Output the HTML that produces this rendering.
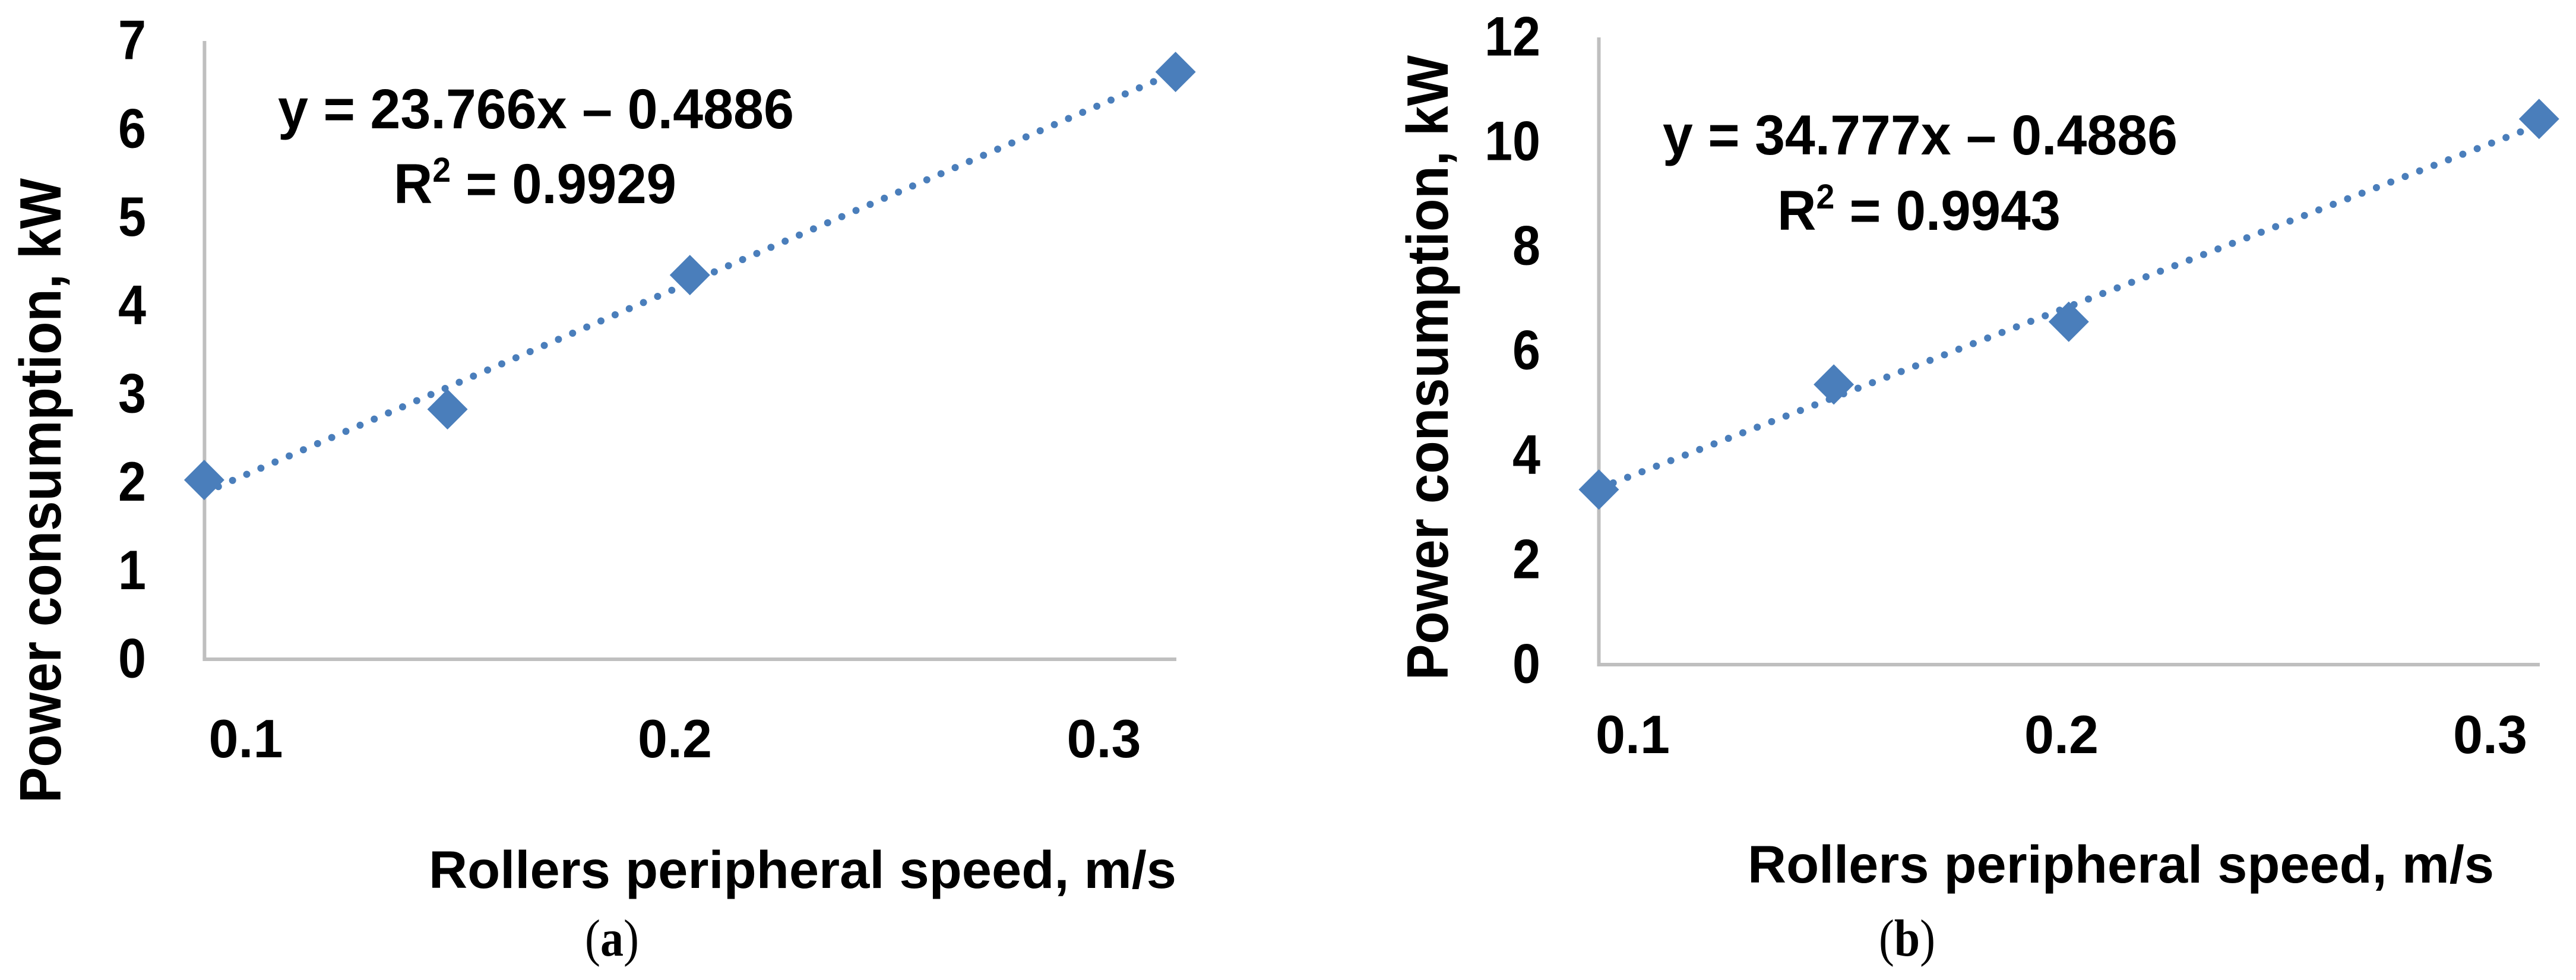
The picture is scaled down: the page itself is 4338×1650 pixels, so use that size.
<!DOCTYPE html>
<html lang="en">
<head>
<meta charset="utf-8">
<title>Power consumption vs rollers peripheral speed</title>
<style>
  html, body { margin: 0; padding: 0; background: #fff; }
  svg { display: block; }
  text { font-family: "Liberation Sans", sans-serif; font-weight: bold; fill: #000; }
  .caption { font-family: "Liberation Serif", serif; font-weight: normal; font-size: 88px; }
  .caption tspan { font-weight: bold; }
</style>
</head>
<body>
<svg id="figure" xmlns="http://www.w3.org/2000/svg" width="4338" height="1650" viewBox="0 0 4338 1650">
  <rect x="0" y="0" width="4338" height="1650" fill="#ffffff"/>

  <g id="panel-a"></g>
  <g id="panel-b"></g>

  <text transform="translate(102,1352) rotate(-90)" font-size="98" textLength="1052" lengthAdjust="spacingAndGlyphs">Power consumption, kW</text>
  <text x="722" y="1495" font-size="89" textLength="1259" lengthAdjust="spacingAndGlyphs">Rollers peripheral speed, m/s</text>
  <text x="468" y="216" font-size="95" textLength="869" lengthAdjust="spacingAndGlyphs">y = 23.766x – 0.4886</text>
  <text x="663" y="342" font-size="95" textLength="476" lengthAdjust="spacingAndGlyphs">R<tspan dy="-36" font-size="58">2</tspan><tspan dy="36"> = 0.9929</tspan></text>
  <text class="caption" x="985" y="1609" textLength="91" lengthAdjust="spacingAndGlyphs">(<tspan>a</tspan>)</text>

  <text transform="translate(2438,1145) rotate(-90)" font-size="98" textLength="1052" lengthAdjust="spacingAndGlyphs">Power consumption, kW</text>
  <text x="2943" y="1486" font-size="89" textLength="1257" lengthAdjust="spacingAndGlyphs">Rollers peripheral speed, m/s</text>
  <text x="2800" y="260" font-size="95" textLength="867" lengthAdjust="spacingAndGlyphs">y = 34.777x – 0.4886</text>
  <text x="2993" y="387" font-size="95" textLength="477" lengthAdjust="spacingAndGlyphs">R<tspan dy="-36" font-size="58">2</tspan><tspan dy="36"> = 0.9943</tspan></text>
  <text class="caption" x="3164" y="1609" textLength="95" lengthAdjust="spacingAndGlyphs">(<tspan>b</tspan>)</text>
</svg>

<script>
// ---- chart data ----
const xTickLabels = [0.1, 0.2, 0.3];

const speedA = [0.0903, 0.147, 0.2035, 0.3167];
const powerA = [2.03, 2.83, 4.35, 6.65];
const trendSpeedA = [0.0903, 0.3167];
const trendPowerA = [1.886, 6.648];
const yTickLabelsA = [0, 1, 2, 3, 4, 5, 6, 7];

const speedB = [0.0921, 0.1469, 0.2017, 0.3114];
const powerB = [3.35, 5.36, 6.56, 10.44];
const trendSpeedB = [0.0921, 0.3114];
const trendPowerB = [3.37, 10.33];
const yTickLabelsB = [0, 2, 4, 6, 8, 10, 12];

const SVG_NS = 'http://www.w3.org/2000/svg';
const BLUE = '#4a7ebb';
const AXIS_GREY = '#bfbfbf';

function make(tag, attrs, parent) {
  const el = document.createElementNS(SVG_NS, tag);
  for (const key in attrs) el.setAttribute(key, attrs[key]);
  parent.appendChild(el);
  return el;
}

function drawPanel(suffix, layout, speeds, powers, trendSpeeds, trendPowers, yTicks) {
  const root = document.getElementById('panel-' + suffix);
  const xScale = v => layout.x01 + (v - 0.1) * layout.xPerUnit;
  const yScale = v => layout.y0 - v * layout.yPerUnit;

  const yAxis = make('line', { x1: layout.axisX, y1: layout.axisTop, x2: layout.axisX, y2: layout.y0, stroke: AXIS_GREY, 'stroke-width': 6 }, root);
  
  

  const xAxis = make('line', { x1: layout.axisX - 3, y1: layout.y0, x2: layout.axisRight, y2: layout.y0, stroke: AXIS_GREY, 'stroke-width': 6 }, root);
  
  

  yTicks.forEach(tick => {
    const label = String(tick);
    const t = make('text', {
      x: layout.yLabelRight, y: yScale(tick) + 30.5, 'font-size': 94, 'text-anchor': 'end',
      textLength: label.length * 47, lengthAdjust: 'spacingAndGlyphs'
    }, root);
    t.textContent = label;
    
    
  });

  xTickLabels.forEach(tick => {
    const t = make('text', {
      x: xScale(tick), y: layout.xLabelBaseline, 'font-size': 91, 'text-anchor': 'middle',
      textLength: 125, lengthAdjust: 'spacingAndGlyphs'
    }, root);
    t.textContent = tick.toFixed(1);
    
    
  });

  const trend = make('line', {
    x1: xScale(trendSpeeds[0]), y1: yScale(trendPowers[0]),
    x2: xScale(trendSpeeds[1]), y2: yScale(trendPowers[1]),
    stroke: BLUE, 'stroke-width': 12, 'stroke-linecap': 'round', 'stroke-dasharray': '0 26'
  }, root);
  
  

  speeds.forEach((speed, i) => {
    const cx = xScale(speed);
    const cy = yScale(powers[i]);
    const r = 34;
    const m = make('polygon', {
      points: [cx, cy - r, cx + r, cy, cx, cy + r, cx - r, cy].join(' '),
      fill: BLUE
    }, root);
    
    
  });
}

drawPanel('a', { x01: 414, xPerUnit: 7225, y0: 1110, yPerUnit: 148.7, axisX: 344.4, axisTop: 69, axisRight: 1981, yLabelRight: 246, xLabelBaseline: 1275 },
  speedA, powerA, trendSpeedA, trendPowerA, yTickLabelsA);
drawPanel('b', { x01: 2749.5, xPerUnit: 7220, y0: 1119, yPerUnit: 88, axisX: 2692.5, axisTop: 63, axisRight: 4277, yLabelRight: 2594, xLabelBaseline: 1268 },
  speedB, powerB, trendSpeedB, trendPowerB, yTickLabelsB);
</script>
</body>
</html>
